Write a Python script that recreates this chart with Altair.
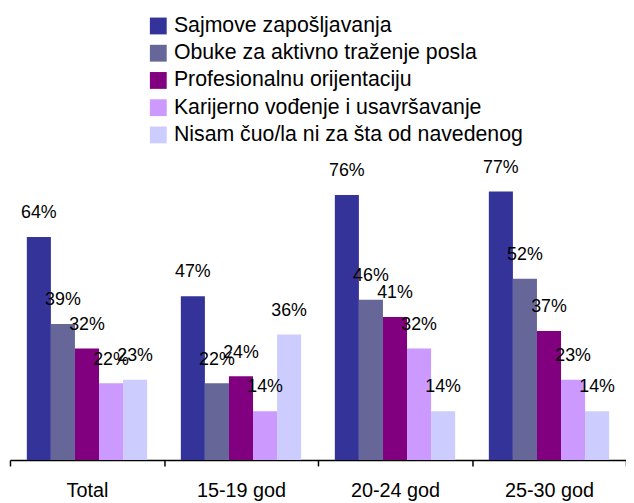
import altair as alt
import pandas as pd

groups = ["Total", "15-19 god", "20-24 god", "25-30 god"]
series = [
    "Sajmove zapošljavanja",
    "Obuke za aktivno traženje posla",
    "Profesionalnu orijentaciju",
    "Karijerno vođenje i usavršavanje",
    "Nisam čuo/la ni za šta od navedenog",
]
colors = ["#333399", "#666699", "#800080", "#CC99FF", "#CCCCFF"]

sajmove = [64, 47, 76, 77]
obuke = [39, 22, 46, 52]
profesionalnu = [32, 24, 41, 37]
karijerno = [22, 14, 32, 23]
nisam = [23, 36, 14, 14]

series_values = [sajmove, obuke, profesionalnu, karijerno, nisam]

rows = []
for s, vals in zip(series, series_values):
    for g, v in zip(groups, vals):
        rows.append({"group": g, "series": s, "value": v, "label": f"{v}%"})
df = pd.DataFrame(rows)

FONT = "Liberation Sans"

x = alt.X(
    "group:N",
    sort=groups,
    scale=alt.Scale(paddingInner=0, paddingOuter=0),
    axis=alt.Axis(
        title=None,
        labelAngle=0,
        tickBand="extent",
        labelFont=FONT,
        labelFontSize=20,
        labelColor="black",
        labelPadding=15,
        tickSize=6,
        tickColor="black",
        tickWidth=1.5,
        domainColor="black",
        domainWidth=1.5,
        grid=False,
    ),
)
xo = alt.XOffset("series:N", sort=series, scale=alt.Scale(paddingInner=0, paddingOuter=0.7))
y = alt.Y("value:Q", scale=alt.Scale(domain=[0, 100]), axis=None)

bars = alt.Chart(df).mark_bar().encode(
    x=x,
    xOffset=xo,
    y=y,
    color=alt.Color(
        "series:N",
        sort=series,
        scale=alt.Scale(domain=series, range=colors),
        legend=alt.Legend(
            title=None,
            orient="none",
            legendX=139,
            legendY=-97,
            symbolType="square",
            symbolSize=289,
            symbolStrokeWidth=0,
            labelFont=FONT,
            labelFontSize=21.5,
            labelColor="black",
            labelOffset=5,
            labelLimit=600,
            rowPadding=4.5,
        ),
    ),
)

labels = alt.Chart(df).mark_text(
    dy=-19, fontSize=18, font=FONT, color="black", baseline="alphabetic", align="center"
).encode(x=x, xOffset=xo, y=y, text="label:N")

chart = (
    alt.layer(bars, labels)
    .properties(
        width=622,
        height=352,
        autosize=alt.AutoSizeParams(type="none"),
        padding={"left": 2, "top": 102, "right": 0, "bottom": 41},
    )
    .configure_view(stroke=None)
)

chart.save("out.html", embed_options={"renderer": "svg", "actions": False})
